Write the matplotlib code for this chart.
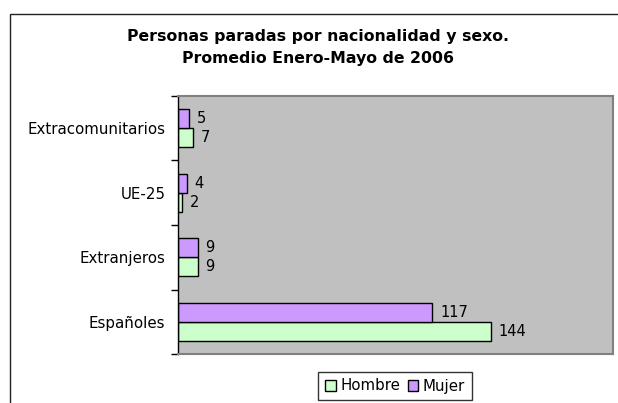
import numpy as np
import matplotlib.pyplot as plt
from matplotlib.patches import Patch, Rectangle

# =====================================================
# DATA
# =====================================================

categorias = ["Españoles", "Extranjeros", "UE-25", "Extracomunitarios"]
hombre = [144, 9, 2, 7]
mujer = [117, 9, 4, 5]

titulo_1 = "Personas paradas por nacionalidad y sexo."
titulo_2 = "Promedio Enero-Mayo de 2006"

color_hombre = "#CCFFCC"
color_mujer = "#CC99FF"

# =====================================================
# FIGURE
# =====================================================

fig = plt.figure(figsize=(6.18, 4.03), dpi=100)
fig.patch.set_facecolor("white")

# outer chart border (runs off the right / bottom of the image)
fig.patches.append(Rectangle(
    (9.5 / 618, -0.2), 1.2, 1.2 - 13.5 / 403,
    transform=fig.transFigure, fill=False,
    edgecolor="#222222", linewidth=1.0
))

ax = fig.add_axes([178 / 618, 49 / 403, 435 / 618, 258 / 403])
ax.set_facecolor("#C0C0C0")

y = np.arange(len(categorias))
h = 0.295

ax.barh(y - h / 2, hombre, height=h, color=color_hombre,
        edgecolor="black", linewidth=1.0, label="Hombre")
ax.barh(y + h / 2, mujer, height=h, color=color_mujer,
        edgecolor="black", linewidth=1.0, label="Mujer")

for i in range(len(categorias)):
    ax.text(hombre[i] + 3.5, y[i] - h / 2, str(hombre[i]),
            va="center", ha="left", fontsize=10.5)
    ax.text(mujer[i] + 3.5, y[i] + h / 2, str(mujer[i]),
            va="center", ha="left", fontsize=10.5)

ax.set_xlim(0, 200)
ax.set_ylim(-0.5, len(categorias) - 0.5)

ax.set_xticks([])
ax.set_yticks(y)
ax.set_yticklabels(categorias, fontsize=10.8)
ax.tick_params(axis="y", which="major", length=0, pad=9)
ax.set_yticks(np.arange(-0.5, len(categorias)), minor=True)
ax.tick_params(axis="y", which="minor", length=5, width=1, color="black")

for side in ["top", "right", "bottom"]:
    ax.spines[side].set_color("#808080")
    ax.spines[side].set_linewidth(1.5)
ax.spines["left"].set_color("black")
ax.spines["left"].set_linewidth(1.0)

# title
fig.text(0.515, 1 - 36 / 403, titulo_1, ha="center", va="center",
         fontsize=11.3, fontweight="bold")
fig.text(0.515, 1 - 58 / 403, titulo_2, ha="center", va="center",
         fontsize=11.3, fontweight="bold")

# legend
handles = [
    Patch(facecolor=color_hombre, edgecolor="black", label="Hombre"),
    Patch(facecolor=color_mujer, edgecolor="black", label="Mujer"),
]
leg = fig.legend(handles=handles, loc="center", ncol=2,
                 bbox_to_anchor=(395 / 618, 1 - 386 / 403),
                 fontsize=10.8, frameon=True, fancybox=False,
                 handlelength=0.7, handleheight=0.7, handletextpad=0.3,
                 columnspacing=0.5, borderpad=0.45, borderaxespad=0)
leg.get_frame().set_edgecolor("black")
leg.get_frame().set_linewidth(1.0)

plt.savefig("out.png", dpi=100)
